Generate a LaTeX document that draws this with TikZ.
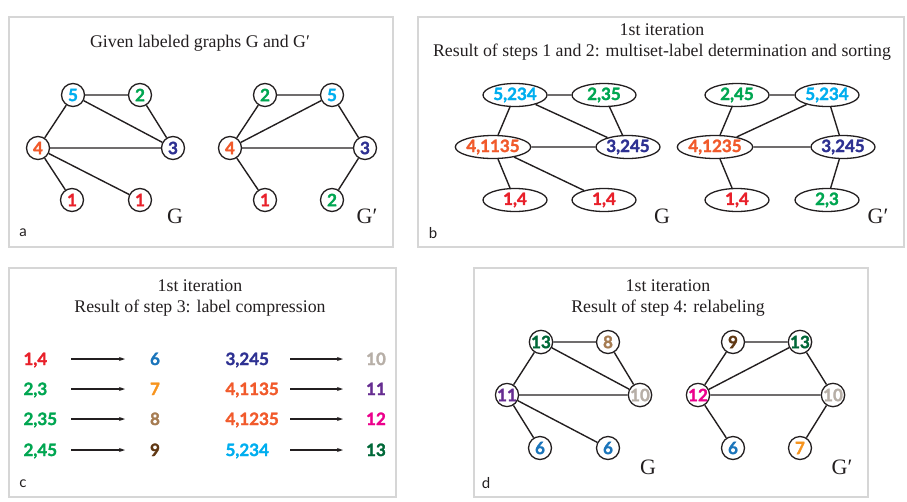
\documentclass[tikz,border=0pt]{standalone}
\usepackage{fontspec}
\setmainfont{Liberation Serif}
\newfontfamily\lblfont{Lato}[BoldFeatures={FakeBold=1.6}]
\usepackage{xcolor}
\usepackage{tikz}
\usetikzlibrary{arrows.meta,shapes.geometric}

\definecolor{cRed}{HTML}{E8202A}
\definecolor{cGreen}{HTML}{00A651}
\definecolor{cCyan}{HTML}{00AEEF}
\definecolor{cNavy}{HTML}{2E3192}
\definecolor{cOrange}{HTML}{F15A2B}
\definecolor{cBlue}{HTML}{1B75BB}
\definecolor{cAmber}{HTML}{F7941E}
\definecolor{cTan}{HTML}{A67C52}
\definecolor{cBrown}{HTML}{603813}
\definecolor{cGrey}{HTML}{B7AFA7}
\definecolor{cPurple}{HTML}{662D91}
\definecolor{cMagenta}{HTML}{EC008C}
\definecolor{cDkGreen}{HTML}{006838}
\definecolor{frame}{HTML}{D6D6D6}
\definecolor{ink}{HTML}{231F20}

\begin{document}
\begin{tikzpicture}[x=1pt,y=-1pt,>={Stealth[length=6,width=4]},
  panel/.style={draw=frame,line width=2},
  vtx/.style={circle,draw=ink,fill=white,line width=1.3,minimum size=23,inner sep=0,
    font=\lblfont\bfseries\fontsize{17}{17}\selectfont},
  mset/.style={ellipse,draw=ink,fill=white,line width=1.3,minimum width=64,minimum height=23,inner sep=0,
    font=\lblfont\bfseries\fontsize{17}{17}\selectfont},
  edge/.style={draw=ink,line width=1.4},
  title/.style={font=\fontsize{17.8}{21}\selectfont,text=ink,align=center},
  gname/.style={font=\fontsize{22}{22}\selectfont,text=ink},
  tag/.style={font=\lblfont\fontsize{15}{15}\selectfont,text=ink},
  num/.style={font=\lblfont\bfseries\fontsize{17}{17}\selectfont}]
  \useasboundingbox (0,0) rectangle (907,501);
  % frames
  \draw[panel] (9,17) rectangle (393,247);
  \draw[panel] (418,17) rectangle (904,247);
  \draw[panel] (9,268) rectangle (396,497);
  \draw[panel] (474,268) rectangle (868,497);

  % a: given graphs
  \node[title] (ttlA) at (200,43) {Given labeled graphs G and G′};
  \node[vtx,text=cCyan]   (a5)  at (73,95)   {5};
  \node[vtx,text=cGreen]  (a2)  at (140,95)  {2};
  \node[vtx,text=cOrange] (a4)  at (38,148)  {4};
  \node[vtx,text=cNavy]   (a3)  at (173,148) {3};
  \node[vtx,text=cRed]    (a1)  at (72,200)  {1};
  \node[vtx,text=cRed]    (a1r) at (140,200) {1};
  \draw[edge] (a5) -- (a2) (a5) -- (a4) (a5) -- (a3) (a2) -- (a3)
              (a4) -- (a3) (a4) -- (a1) (a4) -- (a1r);
  \node[gname] (gA) at (175,216) {G};
  \node[vtx,text=cGreen]  (p2)  at (265,95)  {2};
  \node[vtx,text=cCyan]   (p5)  at (332,95)  {5};
  \node[vtx,text=cOrange] (p4)  at (230,148) {4};
  \node[vtx,text=cNavy]   (p3)  at (365,148) {3};
  \node[vtx,text=cRed]    (p1)  at (265,200) {1};
  \node[vtx,text=cGreen]  (p2b) at (332,200) {2};
  \draw[edge] (p2) -- (p5) (p2) -- (p4) (p5) -- (p4) (p5) -- (p3)
              (p4) -- (p3) (p4) -- (p1) (p3) -- (p2b);
  \node[gname] (gpA) at (367,216) {G′};
  \node[tag] (tagA) at (23,233) {a};

  % b: multiset labels
  \node[title] (ttlB) at (662,42) {1st iteration\\Result of steps 1 and 2: multiset-label determination and sorting};
  \node[mset,text=cCyan]   (b5)  at (515,95)  {5,234};
  \node[mset,text=cGreen]  (b2)  at (604,95)  {2,35};
  \node[mset,text=cOrange] (b4)  at (493,147) {4,1135};
  \node[mset,text=cNavy]   (b3)  at (628,147) {3,245};
  \node[mset,text=cRed]    (b1)  at (515,200) {1,4};
  \node[mset,text=cRed]    (b1r) at (604,200) {1,4};
  \draw[edge] (b5) -- (b2) (b5) -- (b4) (b5) -- (b3) (b2) -- (b3)
              (b4) -- (b3) (b4) -- (b1) (b4) -- (b1r);
  \node[gname] (gB) at (662,216) {G};
  \node[mset,text=cGreen]  (q2)  at (737,95)  {2,45};
  \node[mset,text=cCyan]   (q5)  at (827,95)  {5,234};
  \node[mset,text=cOrange] (q4)  at (715,147) {4,1235};
  \node[mset,text=cNavy]   (q3)  at (843,147) {3,245};
  \node[mset,text=cRed]    (q1)  at (737,200) {1,4};
  \node[mset,text=cGreen]  (q2b) at (827,200) {2,3};
  \draw[edge] (q2) -- (q5) (q2) -- (q4) (q5) -- (q4) (q5) -- (q3)
              (q4) -- (q3) (q4) -- (q1) (q3) -- (q2b);
  \node[gname] (gpB) at (878,216) {G′};
  \node[tag] (tagB) at (433,233) {b};

  % c: label compression
  \node[title] (ttlC) at (200,298) {1st iteration\\Result of step 3: label compression};
  \node[num,text=cRed,anchor=base west]   (l1) at (20,365) {1,4};
  \node[num,text=cGreen,anchor=base west] (l2) at (20,395) {2,3};
  \node[num,text=cGreen,anchor=base west] (l3) at (20,425) {2,35};
  \node[num,text=cGreen,anchor=base west] (l4) at (20,456) {2,45};
  \node[num,text=cBlue,anchor=base]    (n6) at (155,365) {6};
  \node[num,text=cAmber,anchor=base]   (n7) at (155,395) {7};
  \node[num,text=cTan,anchor=base]     (n8) at (155,425) {8};
  \node[num,text=cBrown,anchor=base]   (n9) at (155,456) {9};
  \node[num,text=cNavy,anchor=base west]   (l5) at (222,365) {3,245};
  \node[num,text=cOrange,anchor=base west] (l6) at (222,395) {4,1135};
  \node[num,text=cOrange,anchor=base west] (l7) at (222,425) {4,1235};
  \node[num,text=cCyan,anchor=base west]   (l8) at (222,456) {5,234};
  \node[num,text=cGrey,anchor=base]     (n10) at (376,365) {10};
  \node[num,text=cPurple,anchor=base]   (n11) at (376,395) {11};
  \node[num,text=cMagenta,anchor=base]  (n12) at (376,425) {12};
  \node[num,text=cDkGreen,anchor=base]  (n13) at (376,456) {13};
  \foreach \i/\y in {1/359,2/389,3/419,4/450}{
    \coordinate (s\i) at (71,\y);  \coordinate (e\i) at (125,\y);
    \coordinate (t\i) at (290,\y); \coordinate (f\i) at (343,\y);
    \draw[->,ink,line width=1.1] (s\i) -- (e\i);
    \draw[->,ink,line width=1.1] (t\i) -- (f\i);
  }
  \node[tag] (tagC) at (23,484) {c};

  % d: relabeling
  \node[title] (ttlD) at (668,298) {1st iteration\\Result of step 4: relabeling};
  \node[vtx,text=cDkGreen] (d13) at (541,342) {13};
  \node[vtx,text=cTan]     (d8)  at (608,342) {8};
  \node[vtx,text=cPurple]  (d11) at (507,395) {11};
  \node[vtx,text=cGrey]    (d10) at (640,395) {10};
  \node[vtx,text=cBlue]    (d6)  at (540,448) {6};
  \node[vtx,text=cBlue]    (d6r) at (608,448) {6};
  \draw[edge] (d13) -- (d8) (d13) -- (d11) (d13) -- (d10) (d8) -- (d10)
              (d11) -- (d10) (d11) -- (d6) (d11) -- (d6r);
  \node[gname] (gD) at (648,467) {G};
  \node[vtx,text=cBrown]   (r9)  at (733,342) {9};
  \node[vtx,text=cDkGreen] (r13) at (800,342) {13};
  \node[vtx,text=cMagenta] (r12) at (698,395) {12};
  \node[vtx,text=cGrey]    (r10) at (833,395) {10};
  \node[vtx,text=cBlue]    (r6)  at (733,448) {6};
  \node[vtx,text=cAmber]   (r7)  at (800,448) {7};
  \draw[edge] (r9) -- (r13) (r9) -- (r12) (r13) -- (r12) (r13) -- (r10)
              (r12) -- (r10) (r12) -- (r6) (r10) -- (r7);
  \node[gname] (gpD) at (842,467) {G′};
  \node[tag] (tagD) at (486,483) {d};
\end{tikzpicture}
\end{document}
